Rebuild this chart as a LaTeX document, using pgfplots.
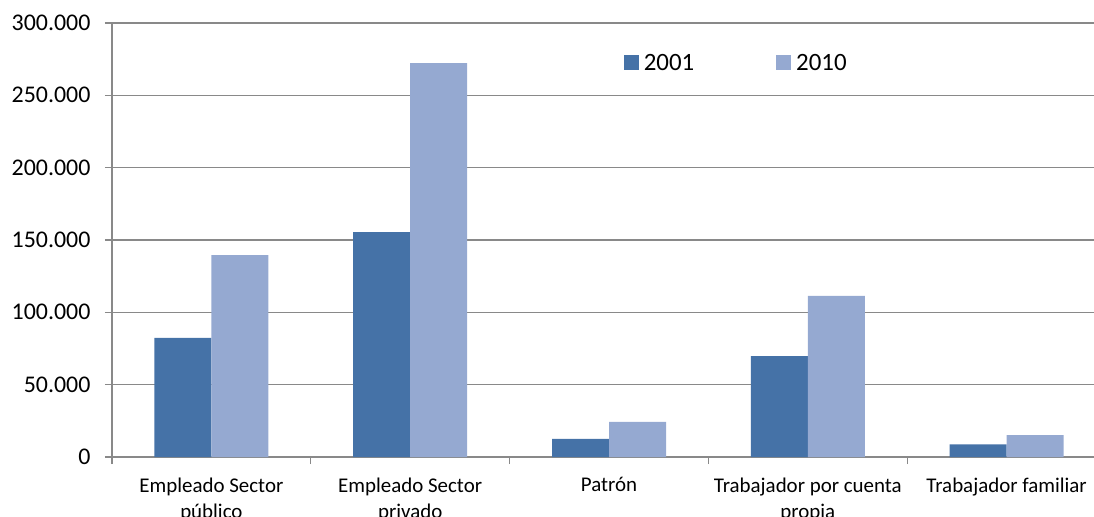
\documentclass[border=0pt]{standalone}
\usepackage{fontspec}
\setmainfont{Carlito}
\usepackage{pgfplots}
\pgfplotsset{compat=1.18}
\definecolor{c01}{HTML}{4572A7}
\definecolor{c10}{HTML}{95A9D1}
\definecolor{gridc}{HTML}{898989}
\begin{document}
\begin{tikzpicture}
\begin{axis}[
  scale only axis, width=994bp, height=434bp,
  xmin=-0.5, xmax=4.5, ymin=0, ymax=300000,
  axis lines=left,
  axis line style={draw=gridc, line width=1.2bp, -},
  tick align=outside,
  tick style={draw=gridc, line width=1.2bp},
  major tick length=7bp,
  ybar=0pt, bar width=57bp,
  ytick={0,50000,100000,150000,200000,250000,300000},
  scaled y ticks=false,
  /pgf/number format/fixed,
  /pgf/number format/1000 sep={.},
  /pgf/number format/assume math mode=true,
  yticklabel style={font=\fontsize{24}{28}\selectfont, text=black, xshift=-11bp},
  ymajorgrids, grid style={draw=gridc, line width=1.2bp},
  xtick={-0.5,0.5,1.5,2.5,3.5,4.5}, xticklabels={},
  extra x ticks={0,1,2,3,4},
  extra x tick labels={Empleado Sector\\público, Empleado Sector\\privado, Patrón, Trabajador por cuenta\\propia, Trabajador familiar},
  extra x tick style={major tick length=0pt, xticklabel style={align=center, font=\fontsize{21}{27}\selectfont, text=black, yshift=-17bp}},
  legend style={at={(0.628,0.908)}, anchor=center, draw=none, fill=none, legend columns=2, font=\fontsize{25}{30}\selectfont, /tikz/every even column/.append style={column sep=80bp}},
  legend image code/.code={\fill[#1] (0bp,-7.5bp) rectangle (15bp,7.5bp);},
  legend cell align=left,
]
\addplot[fill=c01, draw=none] coordinates {(0,82300) (1,155500) (2,12600) (3,69800) (4,8800)};
\addplot[fill=c10, draw=none] coordinates {(0,139600) (1,272300) (2,24200) (3,111300) (4,15200)};
\legend{\hspace{3bp}2001,\hspace{3bp}2010}
\end{axis}
\pgfresetboundingbox
\useasboundingbox (-112bp,-60bp) rectangle (982bp,457bp);
\end{tikzpicture}
\end{document}
